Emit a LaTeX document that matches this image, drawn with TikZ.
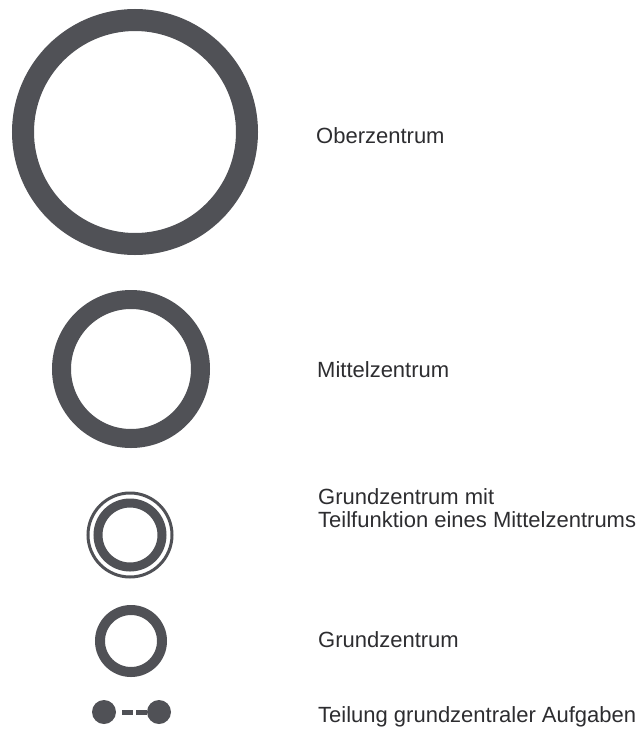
\documentclass[tikz,border=0pt]{standalone}
\usepackage{xcolor}
\usepackage{fontspec}
\setmainfont{Liberation Sans}
\usetikzlibrary{positioning}
\definecolor{ringgrey}{RGB}{80, 81, 86}
\definecolor{textgrey}{RGB}{45, 45, 48}

\begin{document}
\begin{tikzpicture}[
    x=1pt, y=-1pt,
    every node/.style={font=\fontsize{22}{23}\selectfont, text=textgrey},
    ring/.style={circle, draw=ringgrey, inner sep=0pt},
    dot/.style={circle, fill=ringgrey, inner sep=0pt, minimum size=24pt},
    label/.style={anchor=base west, align=left, inner sep=0pt},
]

%% Rahmen fuer das Seitenformat
\useasboundingbox (0,0) rectangle (639,731);

%% Symbole mit absoluten Koordinaten
\node[ring, line width=22pt, minimum size=224pt] at (135,132) (ober)   {};
\node[ring, line width=19pt, minimum size=139pt] at (131,369) (mittel) {};
\node[ring, line width=3pt,  minimum size=84pt]  at (130,535) (teilO)  {};
\node[ring, line width=9pt,  minimum size=64pt]  at (130,535) (teilI)  {};
\node[ring, line width=10pt, minimum size=62pt]  at (131,641) (grund)  {};
\node[dot] at (104,712) (dotL) {};
\node[dot] at (159,712) (dotR) {};

%% Legendentexte
\node[label] at (316,143) (tOber)   {Oberzentrum};
\node[label] at (317,377) (tMittel) {Mittelzentrum};
\node[label] at (318,527) (tTeil)   {Grundzentrum mit\\Teilfunktion eines Mittelzentrums};
\node[label] at (318,647) (tGrund)  {Grundzentrum};
\node[label] at (318,722) (tTeilung){Teilung grundzentraler Aufgaben};

%% Verbindung
\draw[ringgrey, line width=5pt, dash pattern=on 11pt off 3pt, shorten <=6pt]
    (dotL) -- (dotR);

\end{tikzpicture}
\end{document}
